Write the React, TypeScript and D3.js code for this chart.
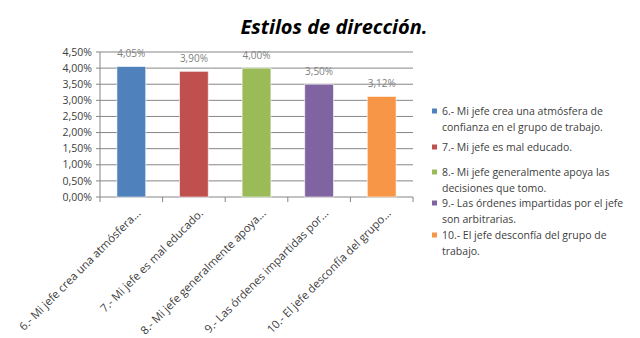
import React from "react";
import * as d3 from "d3";

const categories = [
  "6.- Mi jefe crea una atmósfera de confianza en el grupo de trabajo.",
  "7.- Mi jefe es mal educado.",
  "8.- Mi jefe generalmente apoya las decisiones que tomo.",
  "9.- Las órdenes impartidas por el jefe son arbitrarias.",
  "10.- El jefe desconfía del grupo de trabajo.",
];
const axisLabels = [
  "6.- Mi jefe crea una atmósfera...",
  "7.- Mi jefe es mal educado.",
  "8.- Mi jefe generalmente apoya...",
  "9.- Las órdenes impartidas por...",
  "10.- El jefe desconfía del grupo...",
];
const values = [4.05, 3.9, 4.0, 3.5, 3.12];
const yTicks = [0, 0.5, 1, 1.5, 2, 2.5, 3, 3.5, 4, 4.5];
const colors = ["#4F81BD", "#C0504D", "#9BBB59", "#8064A2", "#F79646"];
const legendLines = [
  ["6.- Mi jefe crea una atmósfera de", "confianza en el grupo de trabajo."],
  ["7.- Mi jefe es mal educado."],
  ["8.- Mi jefe generalmente apoya las", "decisiones que tomo."],
  ["9.- Las órdenes impartidas por el jefe", "son arbitrarias."],
  ["10.- El jefe desconfía del grupo de", "trabajo."],
];
const legendY = [111, 147, 172, 203, 235];

const fmt = (v: number) => v.toFixed(2).replace(".", ",") + "%";

export default function App() {
  const W = 640, H = 338;
  const left = 100, right = 413, top = 52, bottom = 197;
  const x = d3.scaleBand<number>().domain(d3.range(values.length)).range([left, right]).paddingInner(0.54).paddingOuter(0.27);
  const xb = d3.scaleBand<number>().domain(d3.range(values.length)).range([left, right]);
  const y = d3.scaleLinear().domain([0, 4.5]).range([bottom, top]);
  const font = "'Open Sans', 'Noto Sans', sans-serif";
  return (
    <svg width={W} height={H} style={{ position: "absolute", left: 0, top: 0, background: "#fff" }} fontFamily={font}>
      <rect x={0} y={0} width={W} height={H} fill="#fff" />
      <text x={334} y={34} textAnchor="middle" fontSize={20} fontWeight="bold" fontStyle="italic" fill="#000">
        Estilos de dirección.
      </text>
      {yTicks.map((t) => (
        <g key={t}>
          <line x1={left} x2={right} y1={y(t)} y2={y(t)} stroke="#868686" strokeWidth={1} />
          <line x1={left - 4} x2={left} y1={y(t)} y2={y(t)} stroke="#868686" strokeWidth={1} />
          <text x={left - 8} y={y(t)} dy="0.35em" textAnchor="end" fontSize={10.5} fill="#404040">
            {fmt(t)}
          </text>
        </g>
      ))}
      <line x1={left} x2={left} y1={top} y2={bottom} stroke="#868686" />
      {d3.range(values.length + 1).map((i) => {
        const xx = i < values.length ? xb(i)! : right;
        return <line key={i} x1={xx} x2={xx} y1={bottom} y2={bottom + 5} stroke="#868686" />;
      })}
      {values.map((v, i) => (
        <g key={i}>
          <rect x={x(i)} y={y(v)} width={x.bandwidth()} height={bottom - y(v)} fill={colors[i]} stroke="#ffffff" strokeOpacity={0.6} strokeWidth={1} />
          <text x={x(i)! + x.bandwidth() / 2} y={y(v) - 13} dy="0.35em" textAnchor="middle" fontSize={10} fill="#7f7f7f">
            {fmt(v)}
          </text>
        </g>
      ))}
      {axisLabels.map((l, i) => {
        const cx = xb(i)! + xb.bandwidth() / 2 + 10;
        return (
          <text key={i} transform={`translate(${cx},${bottom + 17}) rotate(-45)`} textAnchor="end" fontSize={11.3} fill="#404040">
            {l}
          </text>
        );
      })}
      {legendLines.map((lines, i) => (
        <g key={i}>
          <rect x={432} y={legendY[i] - 2.5} width={5} height={5} fill={colors[i]} />
          {lines.map((ln, j) => (
            <text key={j} x={442} y={legendY[i] + j * 16} dy="0.35em" fontSize={10.5} fill="#404040">
              {ln}
            </text>
          ))}
        </g>
      ))}
    </svg>
  );
}
